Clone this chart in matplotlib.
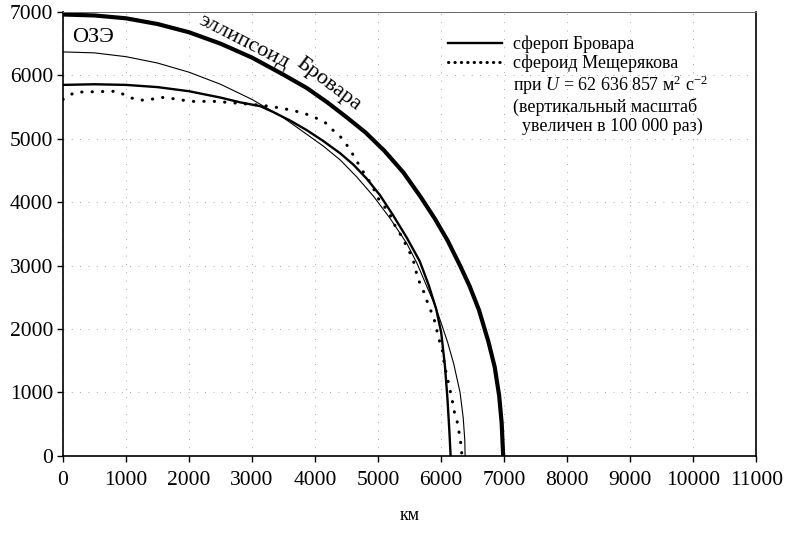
import matplotlib
matplotlib.use("Agg")
import matplotlib.pyplot as plt
from matplotlib.lines import Line2D

plt.rcParams['font.family'] = ['Liberation Serif', 'DejaVu Serif']
plt.rcParams['mathtext.fontset'] = 'custom'
plt.rcParams['mathtext.rm'] = 'Liberation Serif'
plt.rcParams['mathtext.it'] = 'Liberation Serif:italic'

# эллипсоид Бровара (жирная линия)
ell_x = [0, 500, 1000, 1500, 2000, 2500, 3000, 3500, 3870, 4200, 4500, 4800, 5100, 5400, 5670, 5900, 6100, 6300, 6450, 6600, 6750, 6850, 6920, 6960, 6984]
ell_y = [6960, 6945, 6900, 6810, 6680, 6500, 6280, 6010, 5800, 5570, 5340, 5100, 4810, 4470, 4090, 3740, 3400, 3000, 2680, 2300, 1800, 1400, 950, 520, 0]

# ОЗЭ (тонкая линия)
oze_x = [0, 500, 1000, 1500, 2000, 2500, 3000, 3500, 3735, 4130, 4400, 4660, 4930, 5190, 5455, 5615, 5920, 6100, 6200, 6300, 6350, 6375, 6380]
oze_y = [6370, 6355, 6295, 6195, 6050, 5860, 5620, 5330, 5165, 4885, 4665, 4400, 4090, 3745, 3350, 3040, 2330, 1800, 1450, 1000, 600, 250, 0]

# сфероп Бровара
sph_x = [0, 500, 1000, 1500, 2000, 2500, 2810, 3130, 3340, 3600, 3870, 4130, 4400, 4610, 4820, 5030, 5240, 5455, 5660, 5800, 5920, 6000, 6060, 6100, 6130, 6150]
sph_y = [5850, 5860, 5850, 5815, 5750, 5650, 5575, 5515, 5420, 5290, 5135, 4965, 4770, 4590, 4370, 4110, 3790, 3440, 3070, 2700, 2320, 1950, 1420, 900, 400, 0]

# сфероид Мещерякова
mes_x = [0, 190, 860, 1020, 1180, 1350, 1540, 1700, 1890, 2060, 2220, 2410, 2600, 2780, 3130, 3310, 3470, 3655,
         3825, 4000, 4160, 4290, 4425, 4530, 4620, 4715, 4915, 4980, 5095, 5190, 5270, 5375, 5455, 5535, 5590,
         5620, 5700, 5760, 5830, 5890, 5940, 5980, 6030, 6050, 6175, 6205, 6255, 6285, 6315, 6330]
mes_y = [5620, 5735, 5750, 5670, 5610, 5610, 5655, 5640, 5610, 5590, 5590, 5590, 5575, 5560, 5530, 5508, 5482, 5445,
         5403, 5335, 5256, 5130, 5010, 4865, 4720, 4555, 4246, 4088, 3940, 3800, 3626, 3458, 3300, 3142, 2985,
         2810, 2655, 2480, 2305, 2150, 1945, 1785, 1625, 1440, 885, 710, 535, 365, 175, 0]

fig = plt.figure(figsize=(7.87, 5.44), dpi=100)
ax = fig.add_axes([0.080, 0.162, 0.881, 0.816])

ax.plot(ell_x, ell_y, color='black', lw=3.0, solid_capstyle='butt', solid_joinstyle='round')
ax.plot(oze_x, oze_y, color='black', lw=0.8)
ax.plot(sph_x, sph_y, color='black', lw=1.7, solid_joinstyle='round')
ax.plot(mes_x, mes_y, color='black', lw=2.2, linestyle=(0, (0.1, 3.3)), dash_capstyle='round')

ax.set_xlim(0, 11000)
ax.set_ylim(0, 7000)
ax.set_xticks(range(0, 11001, 1000))
ax.set_yticks(range(0, 7001, 1000))
ax.tick_params(labelsize=15.5, direction='out', length=4, width=1)
ax.tick_params(axis='y', pad=3)
ax.tick_params(axis='x', pad=7)
ax.grid(True, color='0.55', linestyle=(0, (1, 9)), lw=0.6)

for s in ['left', 'bottom', 'right']:
    ax.spines[s].set_linewidth(1.2)
ax.spines['top'].set_linewidth(0.7)
ax.spines['top'].set_color('0.4')

ax.set_xlabel('км', fontsize=13, labelpad=12)

ax.text(150, 6600, 'ОЗЭ', fontsize=16, ha='left', va='center')
ax.text(2870, 6525, 'эллипсоид', fontsize=16, rotation=-27,
        ha='center', va='center', rotation_mode='anchor')
ax.text(4215, 5858, 'Бровара', fontsize=16, rotation=-37,
        ha='center', va='center', rotation_mode='anchor')

handles = [Line2D([], [], color='black', lw=1.7),
           Line2D([], [], color='black', lw=2.2, linestyle=(0, (0.1, 2.0)), dash_capstyle='round'),
           Line2D([], [], linestyle='none'),
           Line2D([], [], linestyle='none'),
           Line2D([], [], linestyle='none')]
labels = ['сфероп Бровара',
          'сфероид Мещерякова',
          r'при $U$ = 62 636 857 м$^2$ с$^{-2}$',
          '(вертикальный масштаб',
          '  увеличен в 100 000 раз)']
leg = ax.legend(handles, labels, loc='upper left', bbox_to_anchor=(0.545, 0.963),
                frameon=False, fontsize=13, handlelength=3.0, handletextpad=0.6,
                labelspacing=0.08, borderaxespad=0)

fig.savefig('out.png', dpi=100)
